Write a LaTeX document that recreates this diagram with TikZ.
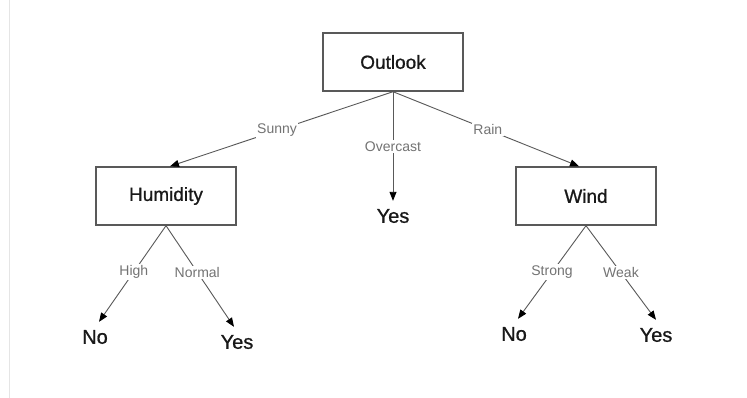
\documentclass[tikz,border=0pt]{standalone}
\usepackage{fontspec}
\setmainfont{Liberation Sans}
\newfontfamily\heavyfont[FakeBold=0.9]{Liberation Sans}
\usetikzlibrary{arrows.meta}

\tikzset{
  attr/.style={draw=black!65, line width=1.4pt, fill=white,
    minimum width=140pt, minimum height=58pt, inner sep=0pt,
    font=\heavyfont\fontsize{19}{22}\selectfont, text=black!90},
  leaf/.style={inner xsep=0pt, inner ysep=8pt,
    font=\heavyfont\fontsize{20}{23}\selectfont, text=black!90},
  branch/.style={draw=black!65, line width=0.9pt,
    -{Triangle[length=9pt,width=7pt,color=black]}},
  val/.style={fill=white, inner sep=1.5pt, text=black!55,
    font=\fontsize{14}{16}\selectfont},
}

\begin{document}
\begin{tikzpicture}[x=1pt, y=-1pt]
  \useasboundingbox (0,0) rectangle (747,398);
  \fill[white] (0,0) rectangle (747,398);
  % faint page edge on the left
  \draw[black!10, line width=1pt] (9,0) -- (9,398);

  % decision nodes
  \node[attr] (outlook)  at (393,62)  {Outlook};
  \node[attr] (humidity) at (166,196) {Humidity};
  \node[attr] (wind)     at (586,196) {Wind};

  % leaves
  \node[leaf] (yesO) at (393,216) {Yes};
  \node[leaf] (noH)  at (95,337)  {No};
  \node[leaf] (yesH) at (237,342) {Yes};
  \node[leaf] (noW)  at (514,334) {No};
  \node[leaf] (yesW) at (656,335) {Yes};

  % branches from the root
  \draw[branch] (outlook.south) -- node[val, pos=0.52] {Sunny}    ([xshift=4pt]humidity.north);
  \draw[branch] (outlook.south) -- node[val, pos=0.5]  {Overcast} (yesO.north);
  \draw[branch] (outlook.south) -- node[val, pos=0.51] {Rain}     ([xshift=-7pt]wind.north);

  % branches below Humidity
  \draw[branch] (humidity.south) -- node[val, pos=0.48]  {High}   ([xshift=4pt]noH.north);
  \draw[branch] (humidity.south) -- node[val, pos=0.46]  {Normal} ([xshift=-3pt]yesH.north);

  % branches below Wind
  \draw[branch] (wind.south) -- node[val, pos=0.5] {Strong} ([xshift=4pt]noW.north);
  \draw[branch] (wind.south) -- node[val, pos=0.5] {Weak}   (yesW.north);
\end{tikzpicture}
\end{document}
